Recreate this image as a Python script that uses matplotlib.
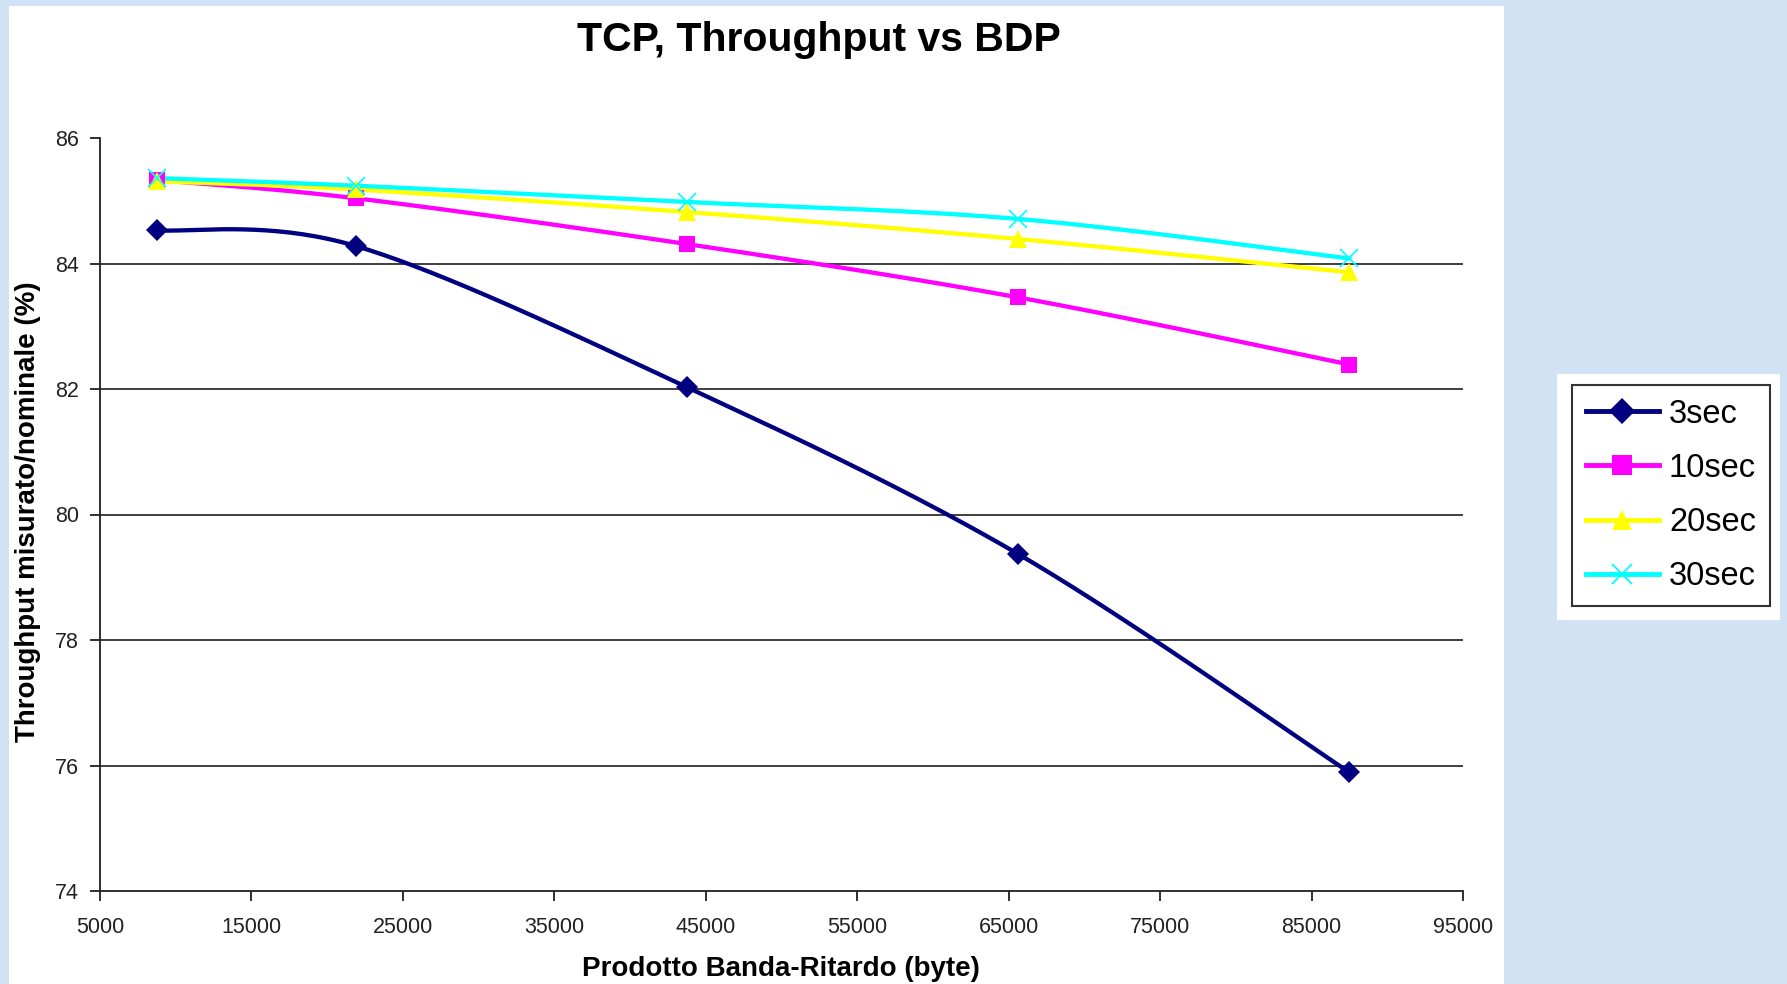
import numpy as np
import matplotlib
matplotlib.use("Agg")
import matplotlib.pyplot as plt
from matplotlib.patches import Rectangle
from matplotlib.lines import Line2D

plt.rcParams["font.family"] = ["Liberation Sans", "DejaVu Sans"]

# Data
bdp = [8750, 21875, 43750, 65625, 87500]
thr_3sec = [84.53, 84.28, 82.03, 79.37, 75.89]
thr_10sec = [85.33, 85.04, 84.31, 83.46, 82.39]
thr_20sec = [85.31, 85.18, 84.82, 84.39, 83.86]
thr_30sec = [85.36, 85.24, 84.98, 84.71, 84.08]

series_names = ["3sec", "10sec", "20sec", "30sec"]
colors = ["#000080", "#ff00ff", "#ffff00", "#00ffff"]
markers = ["D", "s", "^", "x"]
marker_sizes = [11, 12, 13, 13]

x_ticks = [5000, 15000, 25000, 35000, 45000, 55000, 65000, 75000, 85000, 95000]
y_ticks = [74, 76, 78, 80, 82, 84, 86]


def smooth(x, y, n=40):
    # Catmull-Rom spline like Excel's smoothed lines
    x = np.asarray(x, float)
    y = np.asarray(y, float)
    px = np.concatenate([[x[0]], x, [x[-1]]])
    py = np.concatenate([[y[0]], y, [y[-1]]])
    xs, ys = [], []
    t = np.linspace(0, 1, n)
    for i in range(1, len(px) - 2):
        for p, out in ((px, xs), (py, ys)):
            p0, p1, p2, p3 = p[i - 1], p[i], p[i + 1], p[i + 2]
            out.extend(0.5 * ((2 * p1) + (-p0 + p2) * t
                              + (2 * p0 - 5 * p1 + 4 * p2 - p3) * t ** 2
                              + (-p0 + 3 * p1 - 3 * p2 + p3) * t ** 3))
    return np.array(xs), np.array(ys)


W, H = 1787, 984
fig = plt.figure(figsize=(W / 100, H / 100), dpi=100)
fig.patch.set_facecolor("#d1e2f4")

# white chart panel and legend box
fig.add_artist(Rectangle((9 / W, 0), (1504 - 9) / W, (984 - 6) / H,
                         transform=fig.transFigure, facecolor="white",
                         edgecolor="none", zorder=0))
fig.add_artist(Rectangle((1557 / W, 1 - 620 / H), (1780 - 1557) / W, (620 - 374) / H,
                         transform=fig.transFigure, facecolor="white",
                         edgecolor="none", zorder=0))

ax = fig.add_axes([100 / W, 1 - 891 / H, (1463 - 100) / W, (891 - 138) / H])
ax.set_facecolor("none")

all_series = [thr_3sec, thr_10sec, thr_20sec, thr_30sec]
for vals, c, m, ms in zip(all_series, colors, markers, marker_sizes):
    sx, sy = smooth(bdp, vals)
    ax.plot(sx, sy, color=c, lw=3.1, zorder=3)
    ax.plot(bdp, vals, linestyle="none", marker=m, markersize=ms, color=c,
            markeredgewidth=1.2 if m == "x" else 0, zorder=4)

ax.set_xlim(5000, 95000)
ax.set_ylim(74, 86)
ax.set_xticks(x_ticks)
ax.set_yticks(y_ticks)
for yv in y_ticks[1:-1]:
    ax.axhline(yv, color="#303030", lw=1.3, zorder=1)

for s in ("top", "right"):
    ax.spines[s].set_visible(False)
for s in ("left", "bottom"):
    ax.spines[s].set_linewidth(1.3)
    ax.spines[s].set_color("#202020")
ax.tick_params(axis="both", direction="out", length=7, width=1.3,
               color="#202020", labelsize=15.5, labelcolor="#222222")
ax.tick_params(axis="y", pad=8)
ax.tick_params(axis="x", pad=12)

fig.text(819 / W, 1 - 40 / H, "TCP, Throughput vs BDP", ha="center", va="center",
         fontsize=29.5, fontweight="bold")
fig.text(781 / W, 1 - 969 / H, "Prodotto Banda-Ritardo (byte)", ha="center",
         va="center", fontsize=20, fontweight="bold")
fig.text(28 / W, 1 - 512 / H, "Throughput misurato/nominale (%)", ha="center",
         va="center", rotation=90, fontsize=20, fontweight="bold")

handles = [Line2D([], [], color=c, lw=3.5, marker=m, markersize=ms + 2,
                  markeredgewidth=1.3 if m == "x" else 0)
           for c, m, ms in zip(colors, markers, marker_sizes)]
leg = fig.legend(handles, series_names, loc="upper left",
                 bbox_to_anchor=(1572 / W, 1 - 385 / H), fontsize=23.5,
                 frameon=True, fancybox=False, handlelength=2.25,
                 handletextpad=0.3, labelspacing=0.71, borderpad=0.42,
                 borderaxespad=0)
leg.get_frame().set_edgecolor("black")
leg.get_frame().set_linewidth(1.5)
leg.get_frame().set_facecolor("white")

fig.savefig("out.png", dpi=100, facecolor=fig.get_facecolor())
